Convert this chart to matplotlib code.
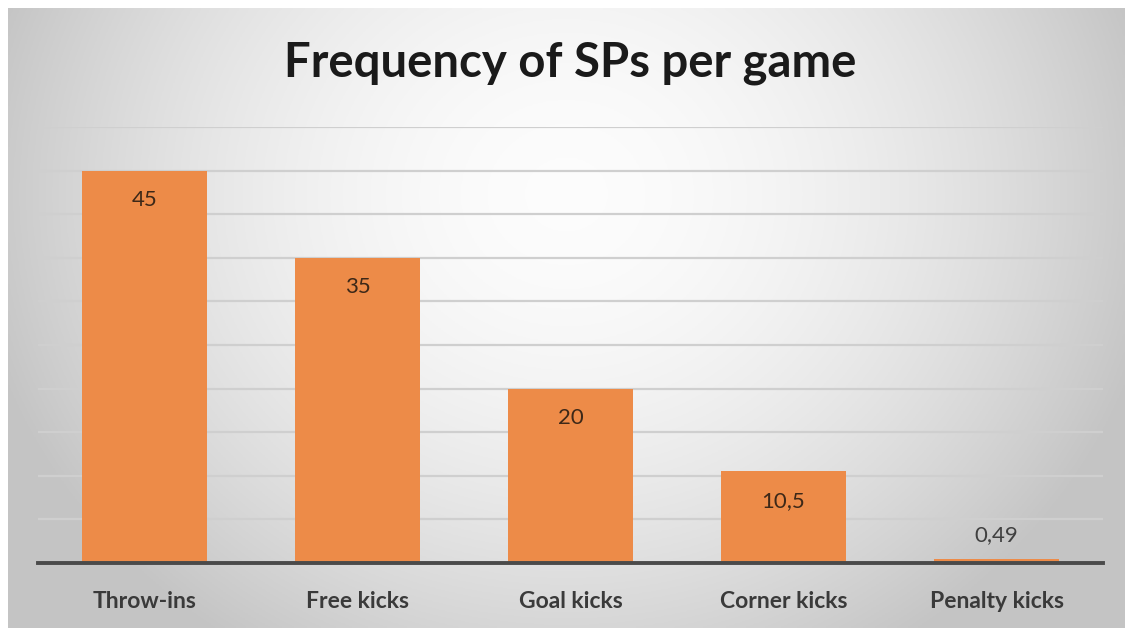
import numpy as np
import matplotlib
matplotlib.use('Agg')
import matplotlib.pyplot as plt

categories = ['Throw-ins', 'Free kicks', 'Goal kicks', 'Corner kicks', 'Penalty kicks']
values = [45, 35, 20, 10.5, 0.49]
yticks = [0, 5, 10, 15, 20, 25, 30, 35, 40, 45, 50]

plt.rcParams['font.family'] = ['Lato', 'DejaVu Sans']

W, H = 1125, 628
fig = plt.figure(figsize=(W / 100, H / 100), dpi=100, facecolor='white')

# radial grey background (white towards the upper middle)
bg = fig.add_axes([8 / W, 0, 1 - 8 / W, 1 - 8 / H])
bg.set_axis_off()
xx, yy = np.meshgrid(np.linspace(-1, 1, 400), np.linspace(-1, 1, 240))
r = np.sqrt((xx / 1.05) ** 2 + ((yy + 0.4) / 1.7) ** 2)
shade = np.clip(0.99 - 0.21 * r ** 1.8, 0.77, 1.0)
bg.imshow(np.dstack([shade] * 3), aspect='auto', extent=(0, 1, 0, 1), origin='upper')
bg.set_xlim(0, 1)
bg.set_ylim(0, 1)

ax = fig.add_axes([38 / W, 1 - 563 / H, (1103 - 38) / W, (563 - 127) / H])
ax.patch.set_alpha(0)
x = np.arange(len(categories))
bars = ax.bar(x, values, width=0.587, color='#ED8B48', zorder=3)

ax.set_xlim(-0.5, len(categories) - 0.5)
ax.set_ylim(0, 50)
ax.set_yticks(yticks)
ax.tick_params(axis='y', left=False, labelleft=False)
ax.tick_params(axis='x', bottom=False, pad=17)
ax.set_xticks(x)
ax.set_xticklabels(categories, fontsize=16.5, fontweight='bold', color='#3a3a3a')
for s in ['top', 'right', 'left']:
    ax.spines[s].set_visible(False)
ax.spines['bottom'].set_color('#4a4a4a')
ax.spines['bottom'].set_linewidth(2.8)
ax.spines['bottom'].set_zorder(4)
ax.yaxis.grid(True, color='#cfcfcf', linewidth=1.6, zorder=1)
ax.set_axisbelow(True)

for xi, v in zip(x, values):
    label = f'{v:g}'.replace('.', ',')
    if v > 5:
        ax.annotate(label, (xi, v), xytext=(0, -21), textcoords='offset points',
                    ha='center', va='center', fontsize=16, color='#3d2818')
    else:
        ax.annotate(label, (xi, v), xytext=(0, 17), textcoords='offset points',
                    ha='center', va='center', fontsize=16, color='#404040')

fig.text(570 / W, 1 - 63 / H, 'Frequency of SPs per game', ha='center', va='center',
         fontsize=34, fontweight='bold', color='#1a1a1a')

fig.savefig('out.png', dpi=100)
